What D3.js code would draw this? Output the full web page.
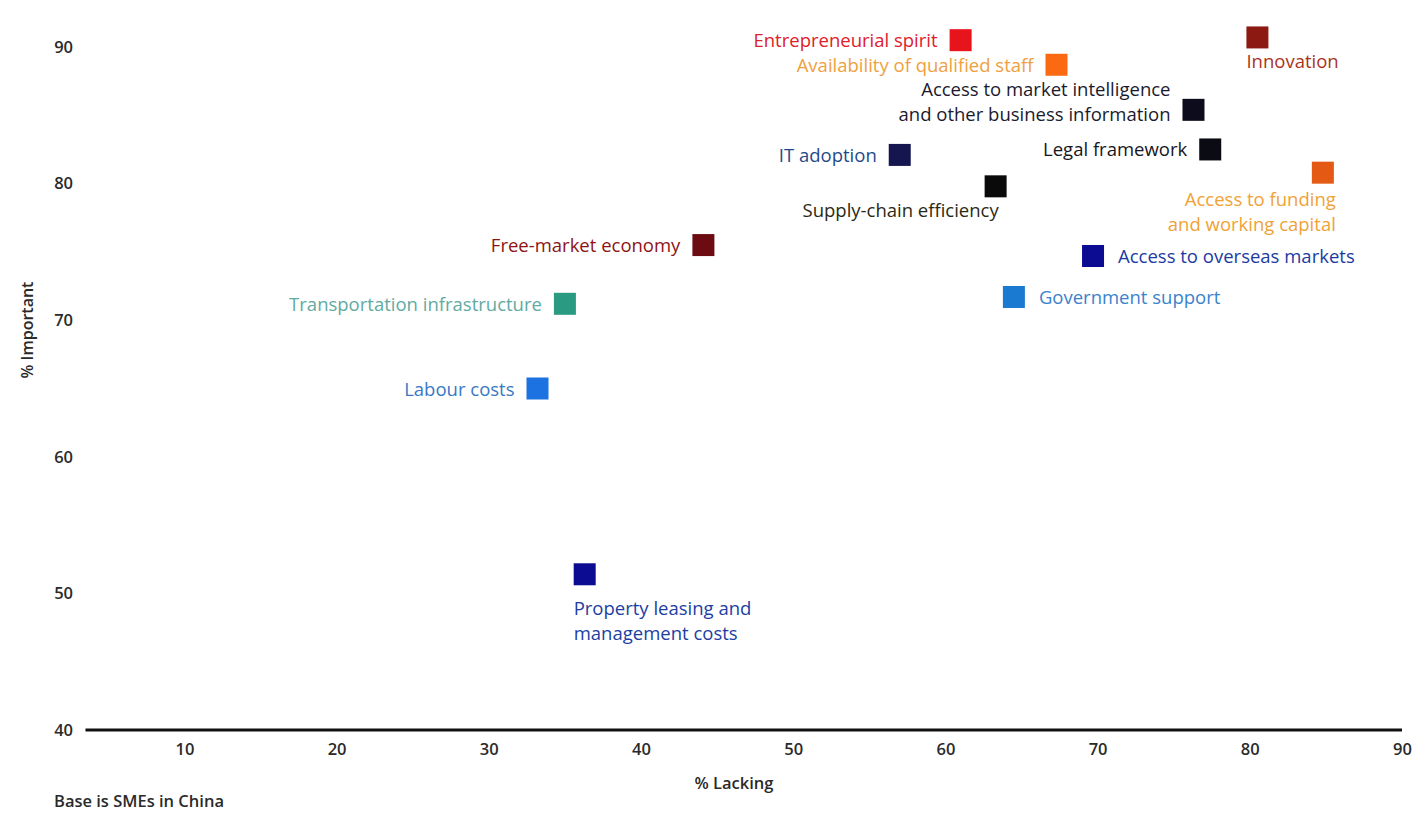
<!DOCTYPE html>
<html>
<head>
<meta charset="utf-8">
<script src="https://cdn.jsdelivr.net/npm/d3@7"></script>
<style>
  html, body { margin: 0; padding: 0; background: #fff; }
  svg { display: block; font-family: "Open Sans", "Noto Sans", sans-serif; }
</style>
</head>
<body>
<svg id="chart" width="1427" height="814"></svg>
<script>
// Business factors for SMEs in China: share rating each factor lacking vs important
const factors = [
  "Entrepreneurial spirit",
  "Availability of qualified staff",
  "Innovation",
  "Access to market intelligence\nand other business information",
  "IT adoption",
  "Legal framework",
  "Supply-chain efficiency",
  "Access to funding\nand working capital",
  "Free-market economy",
  "Access to overseas markets",
  "Government support",
  "Transportation infrastructure",
  "Labour costs",
  "Property leasing and\nmanagement costs"
];
const lacking   = [61, 67.3, 80.5, 76.3, 57, 77.4, 63.3, 84.8, 44.1, 69.7, 64.5, 35, 33.2, 36.3];
const important = [90.5, 88.7, 90.7, 85.4, 82.1, 82.5, 79.8, 80.8, 75.5, 74.7, 71.7, 71.2, 65, 51.4];
const xTicks = [10, 20, 30, 40, 50, 60, 70, 80, 90];
const yTicks = [40, 50, 60, 70, 80, 90];

// Marker and label colours per factor
const markColors = ["#e8141c", "#fb6a12", "#8c1a12", "#0c0c1c", "#151650", "#0b0b14", "#0a0a0a",
                    "#e45a14", "#6c0c12", "#0c0c92", "#1a7ad2", "#2a9a82", "#1c72e0", "#0c0c92"];
const textColors = ["#e0202a", "#f0a040", "#a8341c", "#1a1a2e", "#1f4a8a", "#16161e", "#2a2a14",
                    "#f0a236", "#8c1414", "#1c3aa2", "#3a82cc", "#62aaa2", "#3a78c4", "#1c40a2"];
// Where each label sits relative to its marker, and its extra vertical nudge
const placement = ["left", "left", "below-left", "left", "left", "left", "below-center",
                   "below-right", "left", "right", "right", "left", "left", "below-left"];
const nudge = [0, 0, -2, 4, 0, 0, 0, 0, 0, 0, 0, 0, 0, 8];

const svg = d3.select("#chart");
const x = d3.scaleLinear().domain([0, 90]).range([32.2, 1402]);
const y = d3.scaleLinear().domain([40, 90]).range([730, 47]);

// Baseline
svg.append("line")
  .attr("x1", x(3.5)).attr("x2", x(90))
  .attr("y1", y(40)).attr("y2", y(40))
  .attr("stroke", "#111").attr("stroke-width", 3);

// Axes (labels only)
const xAxis = svg.append("g").attr("transform", `translate(0,${y(40)})`)
  .call(d3.axisBottom(x).tickValues(xTicks).tickSize(0).tickPadding(13));
const yAxis = svg.append("g").attr("transform", `translate(73,0)`)
  .call(d3.axisLeft(y).tickValues(yTicks).tickSize(0).tickPadding(0));
[xAxis, yAxis].forEach(g => {
  g.select(".domain").remove();
  g.selectAll("text").attr("font-size", 16.5).attr("font-weight", 600).attr("fill", "#2a2a2a")
    .attr("font-family", "Open Sans, sans-serif");
});

// Axis titles and note
svg.append("text").attr("x", 734).attr("y", 789)
  .attr("text-anchor", "middle").attr("font-size", 16.5).attr("font-weight", 600).attr("fill", "#2a2a2a")
  .text("% Lacking");
svg.append("text").attr("transform", `translate(33,330) rotate(-90)`)
  .attr("text-anchor", "middle").attr("font-size", 16).attr("font-weight", 600).attr("fill", "#2a2a2a")
  .text("% Important");
svg.append("text").attr("x", 54).attr("y", 807)
  .attr("font-size", 16.5).attr("font-weight", 600).attr("fill", "#2a2a2a")
  .text("Base is SMEs in China");

// Markers
const size = 22;
const pts = factors.map((f, i) => ({ name: f, lx: lacking[i], im: important[i], i }));
svg.append("g").selectAll("rect").data(pts).join("rect")
  .attr("x", d => x(d.lx) - size / 2)
  .attr("y", d => y(d.im) - size / 2)
  .attr("width", size).attr("height", size)
  .attr("fill", d => markColors[d.i]);

// Labels
const lab = svg.append("g").attr("font-size", 18.5).attr("font-weight", 500);
pts.forEach(d => {
  const cx = x(d.lx), cy = y(d.im);
  const lines = d.name.split("\n");
  const p = placement[d.i];
  let tx, ty, anchor;
  const lh = 25;
  if (p === "left") {
    tx = cx - size / 2 - 12; anchor = "end";
    ty = cy + 7 - (lines.length - 1) * lh;
  } else if (p === "right") {
    tx = cx + size / 2 + 14; anchor = "start"; ty = cy + 7;
  } else if (p === "below-left") {
    tx = cx - size / 2; anchor = "start"; ty = cy + size / 2 + 22;
  } else if (p === "below-right") {
    tx = cx + size / 2 + 2; anchor = "end"; ty = cy + size / 2 + 22;
  } else {
    tx = cx - 95; anchor = "middle"; ty = cy + size / 2 + 20;
  }
  ty += nudge[d.i];
  const t = lab.append("text").attr("x", tx).attr("y", ty)
    .attr("text-anchor", anchor).attr("fill", textColors[d.i]);
  lines.forEach((s, k) => {
    t.append("tspan").attr("x", tx).attr("dy", k === 0 ? 0 : lh).text(s);
  });
});
</script>
</body>
</html>
